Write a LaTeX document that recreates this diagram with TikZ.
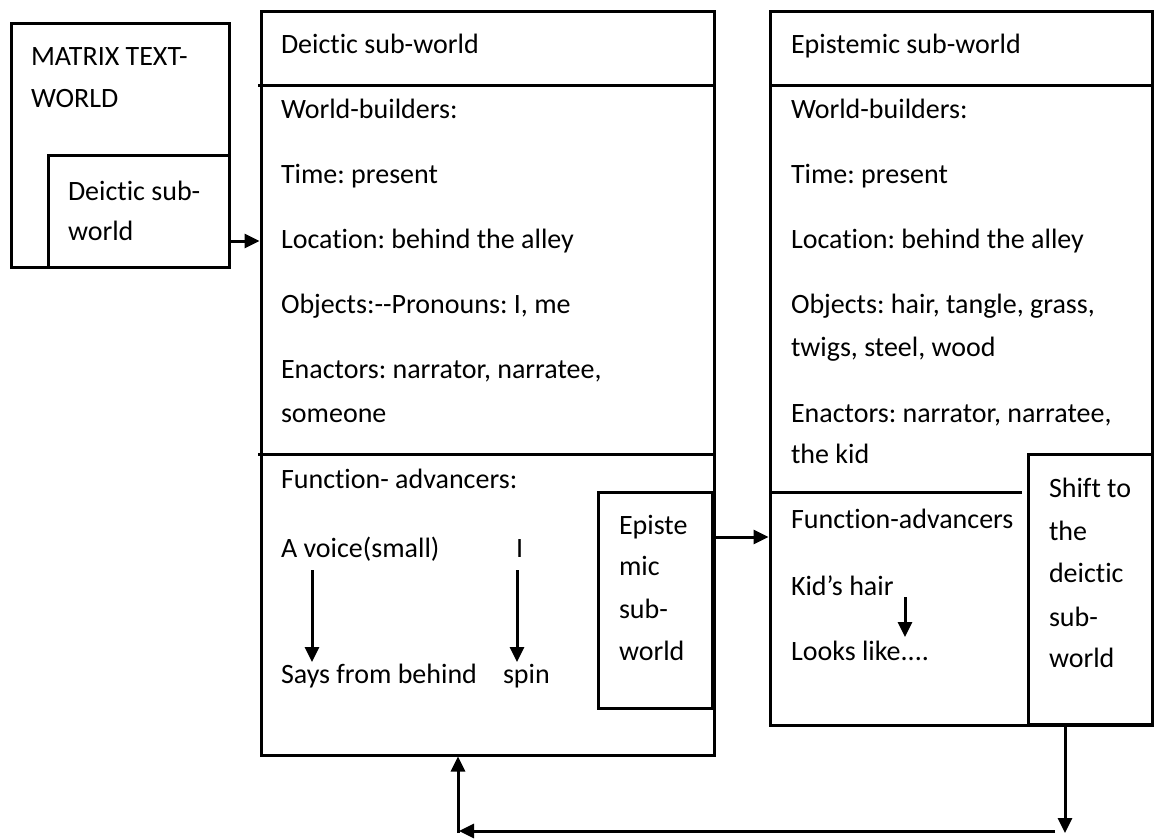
\documentclass[tikz,border=0pt]{standalone}
\usepackage{fontspec}
\setmainfont{Carlito}[Ligatures={TeXOff,NoCommon}]
\frenchspacing
\usetikzlibrary{arrows.meta,calc}

\tikzset{
  frame/.style={draw, rectangle, line width=3pt, inner sep=0pt, outer sep=0pt, anchor=north west},
  txt/.style={anchor=base west, inner sep=0pt, outer sep=0pt, font=\fontsize{28}{34}\selectfont},
  rulel/.style={line width=3pt},
  arr/.style={line width=3pt, -{Triangle[length=15pt,width=14pt]}},
}

\begin{document}
\begin{tikzpicture}[x=1pt,y=-1pt]
  \fill[white] (0,0) rectangle (1155,839);
  \useasboundingbox (0,0) rectangle (1155,839);

  % matrix text-world with its deictic sub-world
  \node[frame, minimum width=218pt, minimum height=244pt] (mtw) at (11,23) {};
  \node[frame, minimum width=181pt, minimum height=112pt] (mds) at (48,155) {};
  \node[txt] (mtw1) at (31,65) {MATRIX TEXT-};
  \node[txt] (mtw2) at (31,107) {WORLD};
  \node[txt] (mds1) at (68,200) {Deictic sub-};
  \node[txt] (mds2) at (68,240) {world};

  % deictic sub-world
  \node[frame, minimum width=453pt, minimum height=744pt] (dsw) at (261,11) {};
  \draw[rulel] (258,85) -- (714,85);
  \draw[rulel] (258,454) -- (716,454);
  \node[txt] (d0) at (281,53) {Deictic sub-world};
  \node[txt] (d1) at (281,118) {World-builders:};
  \node[txt] (d2) at (281,183) {Time: present};
  \node[txt] (d3) at (281,248) {Location: behind the alley};
  \node[txt] (d4) at (281,313) {Objects:--Pronouns: I, me};
  \node[txt] (d5) at (281,378) {Enactors: narrator, narratee,};
  \node[txt] (d6) at (281,422) {someone};
  \node[txt] (d7) at (281,488) {Function- advancers:};
  \node[txt] (d8) at (281,557) {A voice(small)};
  \node[txt] (d9) at (516,557) {I};
  \node[txt] (d10) at (281,683) {Says from behind};
  \node[txt] (d11) at (503,683) {spin};

  % epistemic sub-world inside the deictic one
  \node[frame, minimum width=114pt, minimum height=216pt] (esi) at (598,492) {};
  \node[txt] (e1) at (619,534) {Episte};
  \node[txt] (e2) at (619,575) {mic};
  \node[txt] (e3) at (619,618) {sub-};
  \node[txt] (e4) at (619,660) {world};

  % epistemic sub-world
  \node[frame, minimum width=382pt, minimum height=714pt] (esw) at (770,11) {};
  \draw[rulel] (770,85) -- (1152,85);
  \draw[rulel] (770,492) -- (1022,492);
  \node[txt] (p0) at (791,53) {Epistemic sub-world};
  \node[txt] (p1) at (791,118) {World-builders:};
  \node[txt] (p2) at (791,183) {Time: present};
  \node[txt] (p3) at (791,248) {Location: behind the alley};
  \node[txt] (p4) at (791,313) {Objects: hair, tangle, grass,};
  \node[txt] (p5) at (791,356) {twigs, steel, wood};
  \node[txt] (p6) at (791,422) {Enactors: narrator, narratee,};
  \node[txt] (p7) at (791,463) {the kid};
  \node[txt] (p8) at (791,528) {Function-advancers};
  \node[txt] (p9) at (791,595) {Kid’s hair};
  \node[txt] (p10) at (791,660) {Looks like....};

  % shift box
  \node[frame, minimum width=124pt, minimum height=270pt] (shf) at (1028,454) {};
  \node[txt] (s1) at (1049,497) {Shift to};
  \node[txt] (s2) at (1049,540) {the};
  \node[txt] (s3) at (1049,582) {deictic};
  \node[txt] (s4) at (1049,626) {sub-};
  \node[txt] (s5) at (1049,667) {world};

  % connectors
  \coordinate (c1) at (229,241);
  \draw[arr, shorten >=1.5pt] (c1) -- (c1 -| dsw.west);
  \coordinate (c2) at (714,537);
  \draw[arr, shorten >=1.5pt] (c2) -- (c2 -| esw.west);

  \coordinate (v1a) at (312,570);
  \coordinate (v1b) at (312,662);
  \draw[arr] (v1a) -- (v1b);
  \coordinate (v2a) at (517,570);
  \coordinate (v2b) at (517,662);
  \draw[arr] (v2a) -- (v2b);
  \coordinate (v3a) at (905,597);
  \coordinate (v3b) at (905,637);
  \draw[arr] (v3a) -- (v3b);

  \coordinate (r1) at (1065,724);
  \coordinate (r2) at (1065,833);
  \draw[arr] (r1) -- (r2);
  \coordinate (r3) at (1055,831);
  \coordinate (r4) at (459,831);
  \draw[arr] (r3) -- (r4);
  \coordinate (r5) at (458,833);
  \draw[arr, shorten >=1.5pt] (r5) -- (r5 |- dsw.south);
\end{tikzpicture}
\end{document}
